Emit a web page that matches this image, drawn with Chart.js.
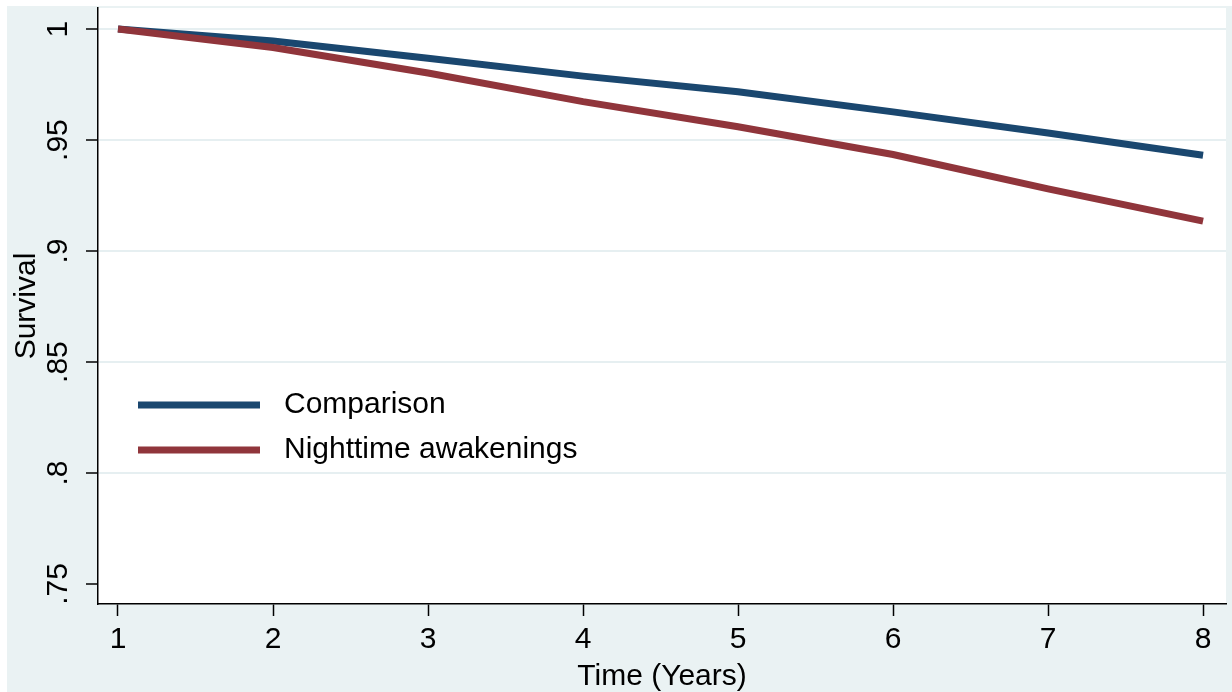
<!DOCTYPE html>
<html>
<head>
<meta charset="utf-8">
<script src="https://cdn.jsdelivr.net/npm/chart.js@4"></script>
<style>
  html, body { margin: 0; padding: 0; background: #fff; }
  #wrap { position: absolute; left: 7px; top: 6px; width: 1225px; height: 686px; background: #eaf2f3; }
  #wrap canvas { background: transparent; }
</style>
</head>
<body>
<div id="wrap"><canvas id="surv" width="1225" height="686"></canvas></div>
<script>
// survival estimates
const years = [1, 2, 3, 4, 5, 6, 7, 8];
const comparison = [1.000, 0.9946, 0.9869, 0.9788, 0.9718, 0.9627, 0.9532, 0.9432];
const nighttime = [1.000, 0.9917, 0.9802, 0.9673, 0.9560, 0.9435, 0.9280, 0.9135];

const yTickValues = [0.75, 0.8, 0.85, 0.9, 0.95, 1];
const yTickLabels = ['.75', '.8', '.85', '.9', '.95', '1'];
const xTickValues = [1, 2, 3, 4, 5, 6, 7, 8];
const seriesNames = ['Comparison', 'Nighttime awakenings'];

const FONT = 'Liberation Sans, Arial, Helvetica, sans-serif';
const FS = 30;

function pts(vals) {
    return years.map((x, i) => ({ x: x, y: vals[i] }));
}

// legend drawn inside the plot area, Stata style
const insideLegend = {
    id: 'insideLegend',
    afterDatasetsDraw(chart) {
        const ctx = chart.ctx;
        const rows = [399, 444];
        ctx.save();
        chart.data.datasets.forEach((ds, i) => {
            const y = rows[i];
            ctx.strokeStyle = ds.borderColor;
            ctx.lineWidth = 7;
            ctx.lineCap = 'butt';
            ctx.beginPath();
            ctx.moveTo(131, y);
            ctx.lineTo(253, y);
            ctx.stroke();
            ctx.fillStyle = '#000';
            ctx.font = FS + 'px ' + FONT;
            ctx.textBaseline = 'middle';
            ctx.textAlign = 'left';
            ctx.fillText(ds.label, 277, y);
        });
        ctx.restore();
    }
};

new Chart(document.getElementById('surv'), {
    type: 'line',
    data: {
        datasets: [{
            label: seriesNames[0],
            data: pts(comparison),
            borderColor: '#1a476f',
            borderWidth: 7,
            borderCapStyle: 'butt',
            pointRadius: 0,
            tension: 0,
            order: 1
        }, {
            label: seriesNames[1],
            data: pts(nighttime),
            borderColor: '#90353b',
            borderWidth: 7,
            borderCapStyle: 'butt',
            pointRadius: 0,
            tension: 0,
            order: 0
        }]
    },
    options: {
        responsive: false,
        devicePixelRatio: 1,
        animation: false,
        layout: { padding: { top: 2, right: 6, left: 0, bottom: 0 } },
        plugins: {
            legend: { display: false },
            tooltip: { enabled: false }
        },
        scales: {
            x: {
                type: 'linear',
                min: 0.871,
                max: 8.148,
                afterBuildTicks: s => { s.ticks = xTickValues.map(v => ({ value: v })); },
                afterFit: s => { s.height = 88; s.paddingLeft = 0; s.paddingRight = 0; },
                grid: {
                    drawOnChartArea: false,
                    drawTicks: true,
                    tickLength: 12,
                    tickColor: '#000',
                    tickWidth: 1.5
                },
                border: { display: true, color: '#000', width: 1.5 },
                ticks: {
                    color: '#000',
                    font: { family: FONT, size: FS },
                    padding: 6,
                    maxRotation: 0,
                    callback: v => String(v)
                },
                title: {
                    display: true,
                    text: 'Time (Years)',
                    color: '#000',
                    font: { family: FONT, size: FS },
                    padding: { top: 0, bottom: -3 }
                }
            },
            y: {
                min: 0.741,
                max: 1.0095,
                afterBuildTicks: s => { s.ticks = yTickValues.map(v => ({ value: v })); },
                afterFit: s => { s.width = 91; s.paddingTop = 0; s.paddingBottom = 0; },
                grid: {
                    color: ctx => (ctx.tick && ctx.tick.value === 0.75) ? 'rgba(0,0,0,0)' : '#e6eff1',
                    lineWidth: 2,
                    drawTicks: true,
                    tickLength: 12,
                    tickColor: '#000',
                    tickWidth: 1.5
                },
                border: { display: true, color: '#000', width: 1.5 },
                ticks: {
                    color: '#000',
                    font: { family: FONT, size: FS },
                    padding: 6,
                    minRotation: 90,
                    maxRotation: 90,
                    crossAlign: 'center',
                    callback: (v, i) => yTickLabels[i]
                },
                title: {
                    display: true,
                    text: 'Survival',
                    color: '#000',
                    font: { family: FONT, size: FS },
                    padding: { top: 2, bottom: 0 }
                }
            }
        }
    },
    plugins: [insideLegend, {
        id: 'plotBg',
        beforeDraw(chart) {
            const a = chart.chartArea;
            chart.ctx.save();
            chart.ctx.fillStyle = '#fff';
            chart.ctx.fillRect(a.left, a.top, a.right - a.left, a.bottom - a.top);
            chart.ctx.restore();
        }
    }]
});
</script>
</body>
</html>
